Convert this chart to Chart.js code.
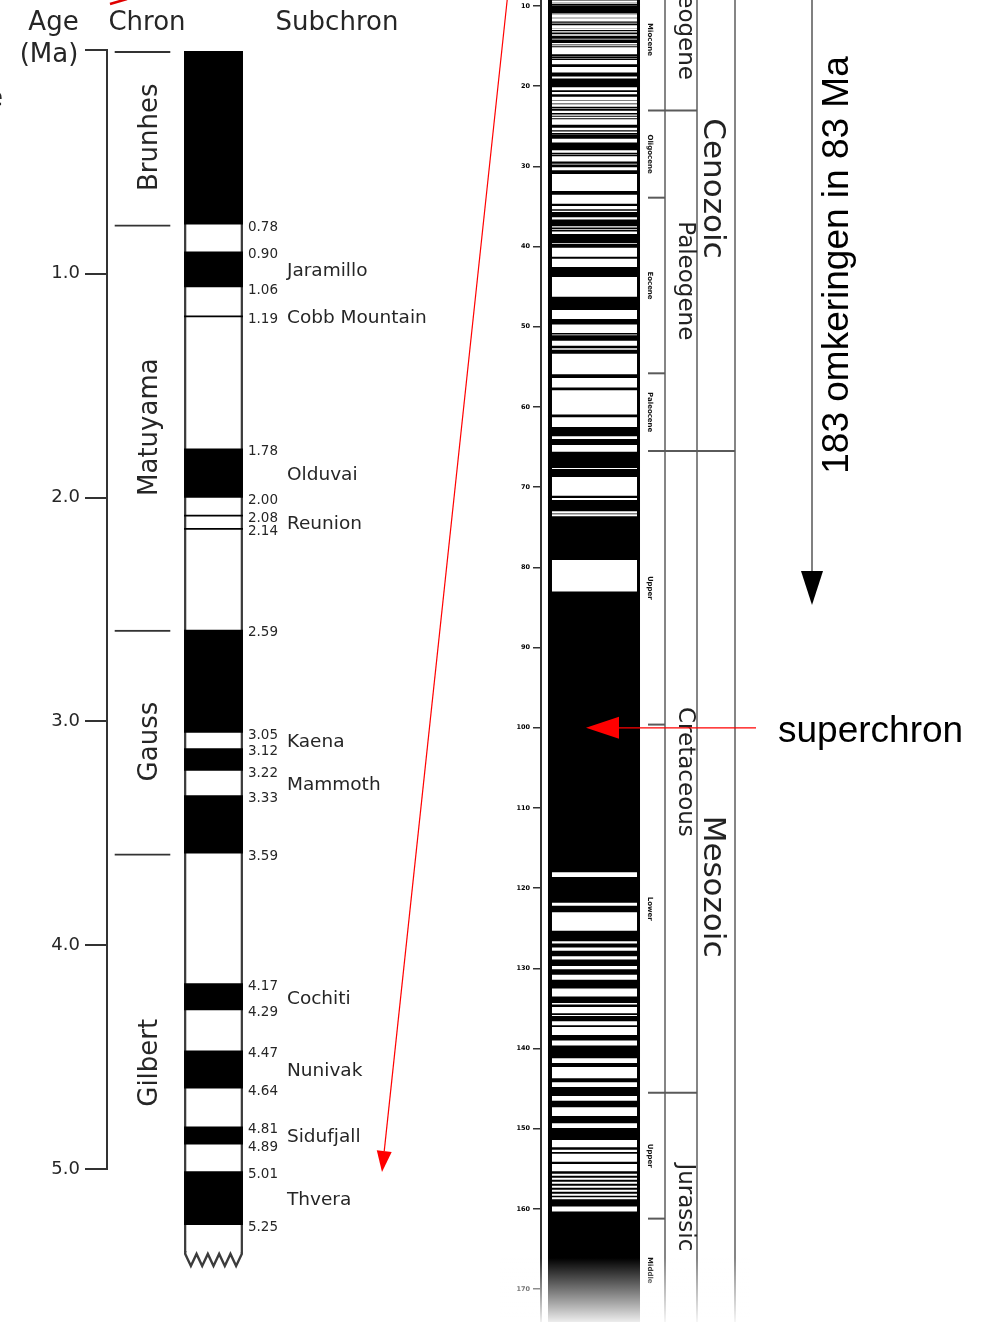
<!DOCTYPE html>
<html>
<head>
<meta charset="utf-8">
<script src="https://cdn.jsdelivr.net/npm/chart.js@4"></script>
<style>
html,body{margin:0;padding:0;background:#fff;width:982px;height:1322px;overflow:hidden;}
canvas{position:absolute;left:0;}
#left{top:0;}
#right{top:-40px;}
</style>
</head>
<body>
<canvas id="left" width="982" height="1322"></canvas>
<canvas id="right" width="982" height="1402"></canvas>
<script>
// ---------- LEFT PANEL DATA (0 - 5.25 Ma) ----------
const leftTicks = [0, 1, 2, 3, 4, 5];
const chronNames = ['Brunhes', 'Matuyama', 'Gauss', 'Gilbert'];
const chronIntervals = [[0, 0.78], [0.78, 2.59], [2.59, 3.59], [3.59, 5.46]];
const leftNormal = [[0, 0.78], [0.90, 1.06], [1.78, 2.00], [2.59, 3.05], [3.12, 3.22], [3.33, 3.59],
                    [4.17, 4.29], [4.47, 4.64], [4.81, 4.89], [5.01, 5.25]];
const leftEvents = [1.19, 2.08, 2.14];
const columnRecord = [0, 5.37];
const boundaryLabels = [0.78, 0.90, 1.06, 1.19, 1.78, 2.00, 2.08, 2.14, 2.59, 3.05, 3.12, 3.22, 3.33,
                        3.59, 4.17, 4.29, 4.47, 4.64, 4.81, 4.89, 5.01, 5.25];
const subchronNames = ['Jaramillo', 'Cobb Mountain', 'Olduvai', 'Reunion', 'Kaena', 'Mammoth',
                       'Cochiti', 'Nunivak', 'Sidufjall', 'Thvera'];
const subchronSpans = [[0.90, 1.06], [1.19, 1.19], [1.78, 2.00], [2.08, 2.14], [3.05, 3.12], [3.22, 3.33],
                       [4.17, 4.29], [4.47, 4.64], [4.81, 4.89], [5.01, 5.25]];

// ---------- RIGHT PANEL DATA (Ma) ----------
const rightTicks = [10, 20, 30, 40, 50, 60, 70, 80, 90, 100, 110, 120, 130, 140, 150, 160, 170];
const rightRange = [9.252, 174.09];
const normalCenozoic = [
  [9.230, 9.308], [9.580, 9.642], [9.740, 9.880], [9.920, 10.949], [11.052, 11.099], [11.476, 11.531],
  [11.935, 12.078], [12.184, 12.401], [12.775, 12.819], [12.991, 13.139], [13.302, 13.510], [13.703, 14.076],
  [14.178, 14.612], [14.800, 14.888], [15.034, 15.155], [16.014, 16.293], [16.327, 16.488], [16.556, 16.726],
  [17.277, 17.615], [18.281, 18.781], [19.048, 20.131], [20.518, 20.725], [20.996, 21.320], [21.768, 21.859],
  [22.151, 22.248], [22.459, 22.493], [22.588, 22.750], [22.804, 23.069], [23.353, 23.535], [23.677, 23.800],
  [23.999, 24.118], [24.730, 24.781], [24.835, 25.183], [25.496, 25.648], [25.823, 25.951], [25.992, 26.554],
  [27.027, 27.972], [28.283, 28.512], [28.578, 28.745], [29.401, 29.662], [29.765, 30.098], [30.479, 30.939],
  [33.058, 33.545], [34.655, 34.940], [35.343, 35.526], [35.685, 36.341], [36.618, 37.473], [37.604, 37.848],
  [37.920, 38.113], [38.426, 39.552], [39.631, 40.130], [41.257, 41.521], [42.536, 43.789], [46.264, 47.906],
  [49.037, 49.714], [50.778, 50.946], [51.047, 51.743], [52.364, 52.663], [52.757, 52.801], [52.903, 53.347],
  [55.904, 56.391], [57.554, 57.911], [60.920, 61.276], [62.499, 63.634], [63.976, 64.745], [65.578, 67.610],
  [67.735, 68.737], [71.071, 71.338], [71.587, 73.004], [73.291, 73.374], [73.619, 79.075]
];
const normalMesozoic = [
  [83.0, 118.0], [118.6, 121.8], [122.2, 123.0], [125.3, 126.6], [126.9, 127.4], [127.8, 128.5],
  [128.9, 129.7], [130.1, 130.8], [131.4, 132.5], [133.5, 134.3], [134.5, 134.8], [135.6, 135.8],
  [135.95, 136.6], [137.1, 137.3], [138.3, 139.0], [139.6, 141.2], [141.8, 142.3], [143.7, 144.2],
  [144.8, 145.9], [146.5, 147.3], [148.4, 149.3], [149.9, 151.4], [152.3, 152.6], [152.9, 153.1],
  [154.1, 154.4], [155.3, 155.6], [155.85, 156.1], [156.35, 156.6], [156.85, 157.1], [157.35, 157.6],
  [157.85, 158.1], [158.35, 158.55], [158.8, 159.7], [160.3, 176.0]
];
const epochNames = ['Miocene', 'Oligocene', 'Eocene', 'Paleocene', 'Upper', 'Lower', 'Upper', 'Middle'];
const epochBounds = [[5.33, 23.03], [23.03, 33.9], [33.9, 55.8], [55.8, 65.5], [65.5, 99.6],
                     [99.6, 145.5], [145.5, 161.2], [161.2, 174.09]];
const periodNames = ['Neogene', 'Paleogene', 'Cretaceous', 'Jurassic'];
const periodBounds = [[2.588, 23.03], [23.03, 65.5], [65.5, 145.5], [145.5, 174.09]];
const eraNames = ['Cenozoic', 'Mesozoic'];
const eraBounds = [[0, 65.5], [65.5, 174.09]];
const reversalNote = '183 omkeringen in 83 Ma';
const superchronLabel = 'superchron';
const superchronAge = 100;

const OFF = 40; // right canvas is shifted up by 40px
const INK = '#262626';

const leftDecor = {
  id: 'leftDecor',
  afterDraw(chart) {
    const ctx = chart.ctx, ys = chart.scales.y, area = chart.chartArea;
    const Y = v => ys.getPixelForValue(v);
    ctx.save();
    // axis line 0..5
    ctx.strokeStyle = '#333'; ctx.lineWidth = 2;
    ctx.beginPath();
    ctx.moveTo(area.left, Y(leftTicks[0]) - 1);
    ctx.lineTo(area.left, Y(leftTicks[leftTicks.length - 1]) + 1);
    ctx.stroke();
    // zigzag bottom of column
    const frame = chart.getDatasetMeta(1).data[0];
    const fl = frame.x - frame.width / 2, fr = frame.x + frame.width / 2;
    const zb = Y(columnRecord[1]);
    ctx.strokeStyle = '#3c3c3c'; ctx.lineWidth = 2.4; ctx.lineJoin = 'miter';
    ctx.beginPath();
    for (let k = 0; k <= 10; k++) {
      const x = fl + 1.2 + (fr - fl - 2.4) * k / 10;
      const y = zb + 2 + (k % 2 ? 12 : 0);
      if (k === 0) { ctx.moveTo(x, y - 3); ctx.lineTo(x, y); } else ctx.lineTo(x, y);
    }
    ctx.lineTo(fr - 1.2, zb);
    ctx.stroke();
    // chron names (vertical)
    ctx.fillStyle = INK;
    ctx.font = '26px "DejaVu Sans"';
    ctx.textAlign = 'center'; ctx.textBaseline = 'alphabetic';
    const cm = chart.getDatasetMeta(0).data;
    chronNames.forEach((n, i) => {
      const cy = (Y(chronIntervals[i][0]) + Y(chronIntervals[i][1])) / 2;
      ctx.save();
      ctx.translate(cm[i].x + 14, cy);
      ctx.rotate(-Math.PI / 2);
      ctx.fillText(n, 0, 0);
      ctx.restore();
    });
    // boundary ages
    ctx.font = '13.5px "DejaVu Sans"';
    ctx.textAlign = 'left';
    boundaryLabels.forEach(v => ctx.fillText(v.toFixed(2), fr + 5, Y(v) + 6.3));
    // subchron names
    ctx.font = '18.5px "DejaVu Sans"';
    subchronNames.forEach((n, i) => {
      const cy = (Y(subchronSpans[i][0]) + Y(subchronSpans[i][1])) / 2;
      ctx.fillText(n, fr + 44, cy + 6.8);
    });
    // headers
    ctx.font = '26px "DejaVu Sans"';
    ctx.textAlign = 'center';
    ctx.fillText('Age', 53.5, 30);
    ctx.fillText('(Ma)', 49, 62);
    ctx.fillText('Chron', 147, 30);
    ctx.fillText('Subchron', 337, 30);
    ctx.textAlign = 'left';
    ctx.fillText('e', -13, 106);
    // red fragment at top
    ctx.strokeStyle = '#e00000'; ctx.lineWidth = 2.5;
    ctx.beginPath(); ctx.moveTo(110, 4); ctx.lineTo(127, -1); ctx.stroke();
    ctx.restore();
  }
};

const rightDecor = {
  id: 'rightDecor',
  afterDraw(chart) {
    const ctx = chart.ctx, ys = chart.scales.y;
    const P = v => ys.getPixelForValue(v) - OFF;
    const frame = chart.getDatasetMeta(0).data[0];
    const colR = frame.x + frame.width / 2;
    const epochR = colR + 25, periodR = colR + 57, eraR = colR + 95;
    ctx.save();
    ctx.translate(0, OFF);
    const top = 0, bottom = 1322;
    // column separators
    ctx.strokeStyle = '#858585'; ctx.lineWidth = 2;
    [epochR, periodR, eraR].forEach(x => {
      ctx.beginPath(); ctx.moveTo(x, top); ctx.lineTo(x, bottom); ctx.stroke();
    });
    // boundary lines
    ctx.strokeStyle = '#5a5a5a'; ctx.lineWidth = 2;
    epochBounds.slice(1).forEach(b => {
      const v = b[0];
      let xe = epochR;
      if (periodBounds.some(p => p[0] === v)) xe = periodR;
      if (eraBounds.some(p => p[0] === v)) xe = eraR;
      ctx.beginPath(); ctx.moveTo(colR + 8, P(v)); ctx.lineTo(xe, P(v)); ctx.stroke();
    });
    // epoch labels
    ctx.fillStyle = '#111';
    ctx.textAlign = 'center'; ctx.textBaseline = 'alphabetic';
    const vtext = (txt, x, cy) => {
      ctx.save(); ctx.translate(x, cy); ctx.rotate(Math.PI / 2); ctx.fillText(txt, 0, 0); ctx.restore();
    };
    ctx.font = 'bold 7px "DejaVu Sans"';
    epochNames.forEach((n, i) => vtext(n, colR + 8, (P(epochBounds[i][0]) + P(epochBounds[i][1])) / 2));
    ctx.fillStyle = '#222';
    ctx.font = '23px "DejaVu Sans"';
    periodNames.forEach((n, i) => vtext(n, epochR + 14, (P(periodBounds[i][0]) + P(periodBounds[i][1])) / 2));
    ctx.font = '31px "DejaVu Sans"';
    eraNames.forEach((n, i) => vtext(n, periodR + 7, (P(eraBounds[i][0]) + P(eraBounds[i][1])) / 2));
    // bottom fade
    const g = ctx.createLinearGradient(0, 1258, 0, 1322);
    g.addColorStop(0, 'rgba(255,255,255,0)');
    g.addColorStop(1, 'rgba(255,255,255,0.93)');
    ctx.fillStyle = g;
    ctx.fillRect(500, 1258, 250, 64);
    // black arrow with note
    ctx.strokeStyle = '#808080'; ctx.lineWidth = 2;
    ctx.beginPath(); ctx.moveTo(812, -2); ctx.lineTo(812, 575); ctx.stroke();
    ctx.fillStyle = '#000';
    ctx.beginPath(); ctx.moveTo(801, 571); ctx.lineTo(823, 571); ctx.lineTo(812, 605); ctx.closePath(); ctx.fill();
    ctx.font = '37px "Liberation Sans"';
    ctx.save(); ctx.translate(848, 265); ctx.rotate(-Math.PI / 2); ctx.fillText(reversalNote, 0, 0); ctx.restore();
    // superchron label + red arrow
    const sy = P(superchronAge);
    ctx.textAlign = 'left';
    ctx.fillText(superchronLabel, 778, sy + 14);
    ctx.strokeStyle = '#ff0000'; ctx.lineWidth = 1.3;
    ctx.beginPath(); ctx.moveTo(756, sy); ctx.lineTo(615, sy); ctx.stroke();
    ctx.fillStyle = '#ff0000';
    ctx.beginPath(); ctx.moveTo(586, sy); ctx.lineTo(619, sy - 11); ctx.lineTo(619, sy + 11); ctx.closePath(); ctx.fill();
    // diagonal red arrow to left panel
    const sx = 507.5, sy0 = -3, tx = 382, ty = 1172;
    const L = Math.hypot(tx - sx, ty - sy0), dx = (tx - sx) / L, dy = (ty - sy0) / L;
    const bx = tx - dx * 21, by = ty - dy * 21;
    ctx.lineWidth = 1.2;
    ctx.beginPath(); ctx.moveTo(sx, sy0); ctx.lineTo(bx, by); ctx.stroke();
    ctx.beginPath();
    ctx.moveTo(tx, ty); ctx.lineTo(bx - dy * 7.5, by + dx * 7.5); ctx.lineTo(bx + dy * 7.5, by - dx * 7.5);
    ctx.closePath(); ctx.fill();
    ctx.restore();
  }
};

function build() {
  const bp = {grouped: false, categoryPercentage: 1};
  new Chart(document.getElementById('left'), {
    type: 'bar',
    data: {
      labels: ['chron', 'polarity'],
      datasets: [
        Object.assign({label: 'chrons', data: chronIntervals.map(r => ({x: 'chron', y: r})),
          backgroundColor: 'rgba(0,0,0,0)', borderColor: '#333',
          borderWidth: {top: 2, left: 0, right: 0, bottom: 0}, borderSkipped: false,
          barPercentage: 0.79, order: 4}, bp),
        Object.assign({label: 'frame', data: [{x: 'polarity', y: columnRecord}],
          backgroundColor: '#fff', borderColor: '#3c3c3c',
          borderWidth: {top: 2, left: 2.5, right: 2.5, bottom: 0}, borderSkipped: false,
          barPercentage: 0.83, order: 3}, bp),
        Object.assign({label: 'normal', data: leftNormal.map(r => ({x: 'polarity', y: r})),
          backgroundColor: '#000', borderWidth: 0, barPercentage: 0.83, order: 2}, bp),
        Object.assign({label: 'events', data: leftEvents.map(v => ({x: 'polarity', y: [v - 0.004, v + 0.004]})),
          backgroundColor: '#000', borderWidth: 0, barPercentage: 0.83, order: 1}, bp)
      ]
    },
    options: {
      responsive: false, animation: false, devicePixelRatio: 1,
      layout: {padding: {left: 0, right: 733, top: 50, bottom: 41}},
      plugins: {legend: {display: false}, tooltip: {enabled: false}},
      scales: {
        x: {type: 'category', display: false},
        y: {
          type: 'linear', reverse: true, min: 0, max: 5.5, position: 'left',
          afterFit: s => { s.width = 107; },
          afterBuildTicks: s => { s.ticks = leftTicks.map(v => ({value: v})); },
          ticks: {callback: v => (v === 0 ? '' : Number(v).toFixed(1)),
                  font: {family: 'DejaVu Sans', size: 18}, color: INK, padding: 5},
          grid: {drawOnChartArea: false, drawTicks: true, tickLength: 22, color: '#333', lineWidth: 2},
          border: {display: false}
        }
      }
    },
    plugins: [leftDecor]
  });

  const allNormal = normalCenozoic.concat(normalMesozoic);
  new Chart(document.getElementById('right'), {
    type: 'bar',
    data: {
      labels: ['polarity'],
      datasets: [
        Object.assign({label: 'frame', data: [{x: 'polarity', y: [9.0, 180]}],
          backgroundColor: '#fff', borderColor: '#000',
          borderWidth: {top: 0, left: 4, right: 3, bottom: 0}, borderSkipped: false,
          barPercentage: 0.868, order: 2}, bp),
        Object.assign({label: 'normal', data: allNormal.map(r => ({x: 'polarity', y: r})),
          backgroundColor: '#000', borderWidth: 0, barPercentage: 0.868, order: 1}, bp)
      ]
    },
    options: {
      responsive: false, animation: false, devicePixelRatio: 1,
      layout: {padding: {left: 500, right: 335, top: OFF, bottom: OFF}},
      plugins: {legend: {display: false}, tooltip: {enabled: false}},
      scales: {
        x: {type: 'category', display: false},
        y: {
          type: 'linear', reverse: true, min: rightRange[0], max: rightRange[1], position: 'left',
          afterFit: s => { s.width = 41; },
          afterBuildTicks: s => { s.ticks = rightTicks.map(v => ({value: v})); },
          ticks: {callback: v => String(v), font: {family: 'DejaVu Sans', size: 6.5, weight: 'bold'},
                  color: '#000', padding: 3},
          grid: {drawOnChartArea: false, drawTicks: true, tickLength: 8, color: '#333', lineWidth: 1.5},
          border: {display: true, color: '#333', width: 2}
        }
      }
    },
    plugins: [rightDecor]
  });
}

let built = false;
function go() { if (!built) { built = true; build(); } }
if (document.fonts && document.fonts.load) {
  Promise.all([
    document.fonts.load('26px "DejaVu Sans"'),
    document.fonts.load('bold 7px "DejaVu Sans"'),
    document.fonts.load('37px "Liberation Sans"')
  ]).then(go, go);
  setTimeout(go, 300);
} else { go(); }
</script>
</body>
</html>
